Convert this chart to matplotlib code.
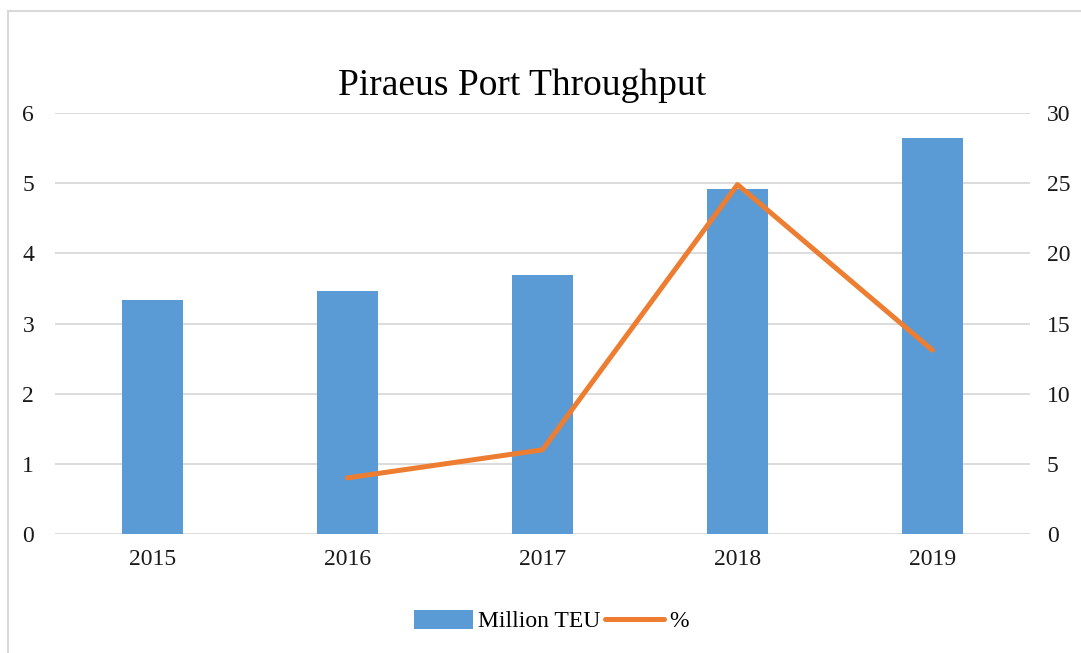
import numpy as np
import matplotlib.pyplot as plt
from matplotlib.patches import Rectangle

plt.rcParams['font.family'] = ['Liberation Serif', 'DejaVu Serif']

years = ['2015', '2016', '2017', '2018', '2019']
million_teu = [3.33, 3.47, 3.69, 4.91, 5.65]
growth_years = ['2016', '2017', '2018', '2019']
growth_pct = [4.0, 6.0, 24.9, 13.1]

fig = plt.figure(figsize=(10.81, 6.53), dpi=100)
ax = fig.add_axes([55 / 1081, 1 - 534 / 653, 975 / 1081, 421 / 653])

# outer chart frame
fig.patches.append(Rectangle((8 / 1081, -0.05), 1.1, 1 - 11 / 653 + 0.05,
                             transform=fig.transFigure, fill=False,
                             edgecolor='#d9d9d9', linewidth=1.5))

x = np.arange(len(years))
ax.bar(x, million_teu, width=0.31, color='#5B9BD5', zorder=2,
       label='Million TEU')
ax.set_xlim(-0.5, len(years) - 0.5)
ax.set_ylim(0, 6)
ax.set_yticks(range(0, 7))
ax.set_xticks(x)
ax.set_xticklabels(years)
ax.grid(axis='y', color='#d9d9d9', linewidth=1.3, zorder=0)
for s in ax.spines.values():
    s.set_visible(False)
ax.tick_params(length=0, labelsize=17, colors='#1a1a1a')
ax.tick_params(axis='x', pad=11)
ax.tick_params(axis='y', pad=15)

ax2 = ax.twinx()
gx = [years.index(y) for y in growth_years]
ax2.plot(gx, growth_pct, color='#ED7D31', linewidth=3.6,
         solid_joinstyle='round', solid_capstyle='round', label='%')
ax2.set_ylim(0, 30)
ax2.set_yticks(range(0, 31, 5))
for s in ax2.spines.values():
    s.set_visible(False)
ax2.tick_params(length=0, labelsize=17, colors='#1a1a1a', pad=12)

fig.text(0.483, 1 - 86 / 653, 'Piraeus Port Throughput', ha='center',
         va='center', fontsize=27)

h1, l1 = ax.get_legend_handles_labels()
h2, l2 = ax2.get_legend_handles_labels()
fig.legend(h1 + h2, l1 + l2, loc='center', bbox_to_anchor=(0.51, 1 - 621 / 653),
           ncol=2, frameon=False, fontsize=17, handlelength=2.5,
           handleheight=0.85, columnspacing=0.2, handletextpad=0.2)

fig.savefig('out.png', dpi=100)
